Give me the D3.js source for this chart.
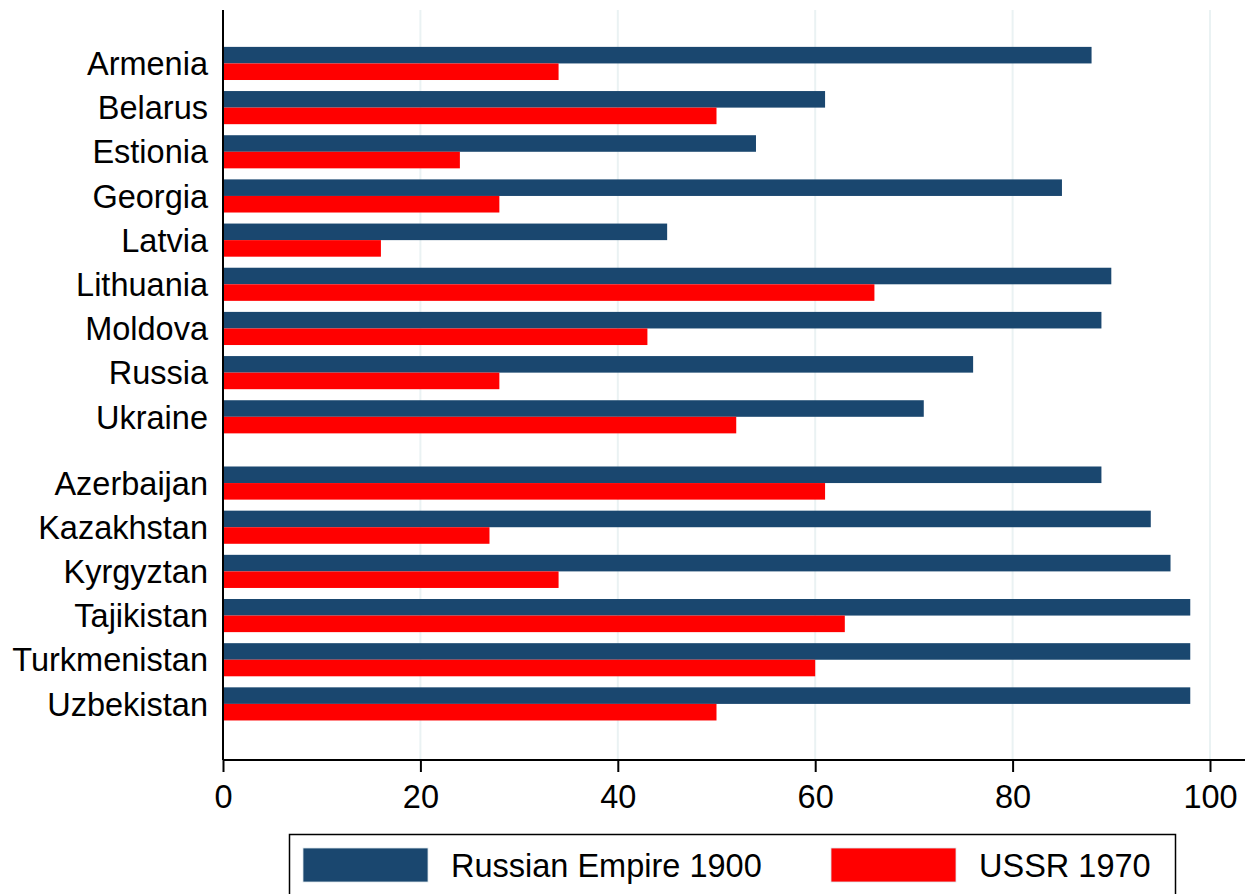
<!DOCTYPE html>
<html>
<head>
<meta charset="utf-8">
<script src="https://cdn.jsdelivr.net/npm/d3@7"></script>
<style>
  body { margin: 0; background: #fff; }
  text { font-family: "Liberation Sans", Arial, sans-serif; fill: #000; }
</style>
</head>
<body>
<div id="svg-container"></div>
<script>
// data
const countries = [
  "Armenia", "Belarus", "Estionia", "Georgia", "Latvia", "Lithuania", "Moldova", "Russia", "Ukraine",
  "Azerbaijan", "Kazakhstan", "Kyrgyztan", "Tajikistan", "Turkmenistan", "Uzbekistan"
];
const groups = [1, 1, 1, 1, 1, 1, 1, 1, 1, 2, 2, 2, 2, 2, 2];
const empire1900 = [88, 61, 54, 85, 45, 90, 89, 76, 71, 89, 94, 96, 98, 98, 98];
const ussr1970 = [34, 50, 24, 28, 16, 66, 43, 28, 52, 61, 27, 34, 63, 60, 50];
const seriesNames = ["Russian Empire 1900", "USSR 1970"];
const xTicks = [0, 20, 40, 60, 80, 100];

const colors = ["#1a476f", "#ff0000"];

const width = 1258;
const height = 894;
const fontSize = 32.5;

const svg = d3.select("#svg-container").append("svg")
  .attr("width", width)
  .attr("height", height);

// plot region
const plot = { left: 223, right: 1245, top: 10, bottom: 760 };

const xScale = d3.scaleLinear().domain([0, 100]).range([plot.left, 1210]);

// slot index per country, second group shifted by half a step
const slots = countries.map((d, i) => i + (groups[i] === 2 ? 0.5 : 0));
const yScale = d3.scaleLinear().domain([-1.21, 15.77]).range([plot.top, plot.bottom]);
const step = yScale(1) - yScale(0);
const barH = step * 0.375;

const data = countries.map((c, i) => ({
  country: c,
  slot: slots[i],
  values: [empire1900[i], ussr1970[i]]
}));

// gridlines
svg.append("g")
  .selectAll("line")
  .data(xTicks.filter(d => d > 0))
  .enter()
  .append("line")
  .attr("x1", d => xScale(d))
  .attr("x2", d => xScale(d))
  .attr("y1", plot.top)
  .attr("y2", plot.bottom)
  .attr("stroke", "#eaf2f3")
  .attr("stroke-width", 2);

// bars
const rows = svg.append("g")
  .selectAll("g")
  .data(data)
  .enter()
  .append("g")
  .attr("transform", d => `translate(0, ${yScale(d.slot)})`);

rows.selectAll("rect")
  .data(d => d.values)
  .enter()
  .append("rect")
  .attr("x", xScale(0))
  .attr("y", (d, i) => (i === 0 ? -barH : 0))
  .attr("width", d => xScale(d) - xScale(0))
  .attr("height", barH)
  .attr("fill", (d, i) => colors[i]);

rows.append("text")
  .attr("x", plot.left - 15)
  .attr("y", 0)
  .attr("dy", fontSize * 0.36)
  .attr("text-anchor", "end")
  .style("font-size", fontSize + "px")
  .text(d => d.country);

// y axis line
svg.append("line")
  .attr("x1", plot.left).attr("x2", plot.left)
  .attr("y1", plot.top).attr("y2", plot.bottom)
  .attr("stroke", "#000").attr("stroke-width", 2);

// x axis
const xAxis = d3.axisBottom(xScale)
  .tickValues(xTicks)
  .tickSize(12)
  .tickPadding(13)
  .tickSizeOuter(0);

const gx = svg.append("g")
  .attr("transform", `translate(0, ${plot.bottom})`)
  .call(xAxis);

gx.select(".domain")
  .attr("d", `M${plot.left},0H${plot.right}`)
  .attr("stroke", "#000")
  .attr("stroke-width", 2);
gx.selectAll(".tick line").attr("stroke", "#000").attr("stroke-width", 2);
gx.selectAll(".tick text")
  .style("font-size", fontSize + "px")
  .style("font-family", "\"Liberation Sans\", Arial, sans-serif")
  .attr("fill", "#000");

// legend
const legend = svg.append("g");
legend.append("rect")
  .attr("x", 289.5)
  .attr("y", 834.5)
  .attr("width", 886)
  .attr("height", 80)
  .attr("fill", "#fff")
  .attr("stroke", "#000")
  .attr("stroke-width", 1.5);

const legendX = [303, 831];
const items = legend.selectAll("g.item")
  .data(seriesNames)
  .enter()
  .append("g")
  .attr("class", "item")
  .attr("transform", (d, i) => `translate(${legendX[i]}, 848)`);

items.append("rect")
  .attr("width", 125)
  .attr("height", 34)
  .attr("fill", (d, i) => colors[i])
  .attr("stroke", "#dde6ea")
  .attr("stroke-width", 0.8);

items.append("text")
  .attr("x", 148)
  .attr("y", 29)
  .style("font-size", fontSize + "px")
  .text(d => d);
</script>
</body>
</html>
